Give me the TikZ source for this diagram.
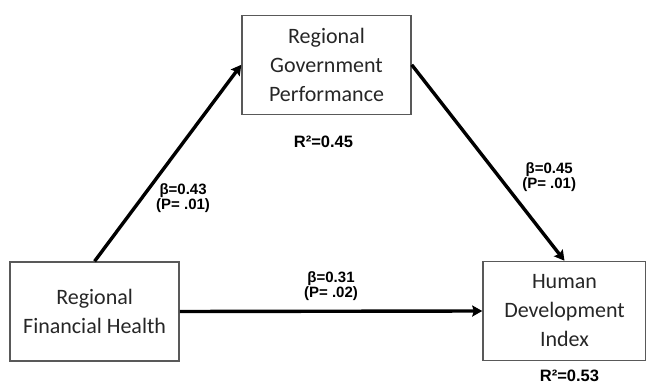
\documentclass[tikz,border=0pt]{standalone}
\usepackage{fontspec}
\setmainfont{Carlito}
\newfontfamily\statfont{Liberation Sans}
\usetikzlibrary{arrows.meta}
\usetikzlibrary{positioning}

\begin{document}
\begin{tikzpicture}[->,>={Stealth[length=10pt,width=11pt,inset=1.5pt]},x=1pt,y=-1pt,
					line width=3.4pt,font=\fontsize{22}{29}\selectfont]
					\tikzstyle{box}=[draw=black!65,line width=1.5pt,align=center,
					  minimum width=169pt,minimum height=99pt,inner sep=0pt,text=black!85]
					\tikzstyle{stat}=[font=\statfont\bfseries\fontsize{15}{12.5}\selectfont,
					  align=center,inner sep=1pt]
					\tikzstyle{rsq}=[font=\statfont\bfseries\fontsize{16.5}{18}\selectfont,inner sep=0pt]
					
					\useasboundingbox (0,0) rectangle (646,385);
					
					\node[box]                     (RGP) at (326.5,64.8) {Regional\\Government\\Performance};
					\node[box]                     (RFH) at (94.6,311.5) {Regional\\Financial Health};
					\node[box,minimum width=163pt] (HDI) at (564.5,311)  {Human\\Development\\Index};
					
					\node[rsq] (R2_RGP) [below=19pt of RGP,xshift=-3pt]  {R²=0.45};
					\node[rsq] (R2_HDI) [below=7.5pt of HDI,xshift=5pt] {R²=0.53};
					
					\path (RFH.north) edge node[stat,pos=.32,right=12pt] {β=0.43\\(P= .01)} (RGP.west)
					(RGP.east) edge node[stat,pos=.575,right=20pt] {β=0.45\\(P= .01)} (HDI.north)
					(RFH.east) edge node[stat,pos=.5,above=8pt] {β=0.31\\(P= .02)} (HDI.west)
					;
					\end{tikzpicture}
\end{document}
